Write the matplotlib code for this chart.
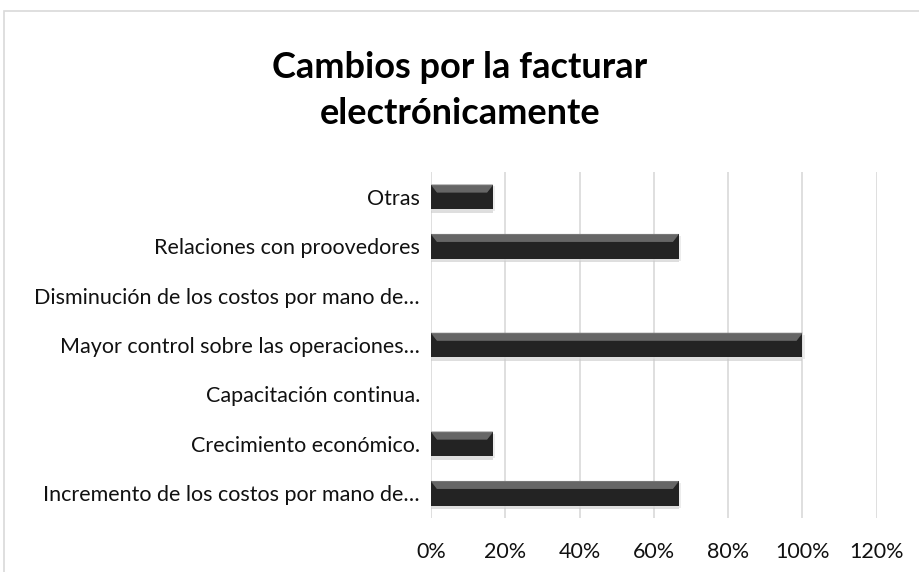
import matplotlib.pyplot as plt
from matplotlib.patches import Polygon, Rectangle
from matplotlib.ticker import PercentFormatter
import numpy as np

# categories listed bottom-to-top, as the chart shows them
categories = [
    "Incremento de los costos por mano de…",
    "Crecimiento económico.",
    "Capacitación continua.",
    "Mayor control sobre las operaciones…",
    "Disminución de los costos por mano de…",
    "Relaciones con proovedores",
    "Otras",
]
values = [66.7, 16.7, 0.0, 100.0, 0.0, 66.7, 16.7]
x_ticks = [0, 20, 40, 60, 80, 100, 120]
title = "Cambios por la facturar\nelectrónicamente"

plt.rcParams["font.family"] = ["Lato", "DejaVu Sans"]

fig = plt.figure(figsize=(9.2, 5.72), dpi=100)
ax = fig.add_axes([0.4685, 0.0944, 0.4845, 0.6046])

# chart frame (light gray, runs off the right and bottom of the image)
fig.patches.append(Rectangle((4 / 920, -0.1), 1.2, 1 - 11 / 572 + 0.1,
                             transform=fig.transFigure, fill=False,
                             edgecolor="#d9d9d9", lw=1.2))

bar_h = 0.5
y = np.arange(len(categories))

for yi, v in zip(y, values):
    if v <= 0:
        continue
    # soft shadow under the bar
    ax.barh(yi - 0.07, v, height=bar_h, color="#c8c8c8", alpha=0.6, zorder=2)
    ax.barh(yi - 0.04, v + 0.6, height=bar_h, color="#e0e0e0", alpha=0.6, zorder=2)
    # dark body
    ax.barh(yi, v, height=bar_h, color="#232323", zorder=3)
    # bevel highlight along the top edge
    top = yi + bar_h / 2
    d = 1.6
    band = 0.16
    ax.add_patch(Polygon([(0, top), (v, top), (v - d, top - band), (d, top - band)],
                         closed=True, facecolor="#7a7a7a", edgecolor="none", zorder=4))
    ax.add_patch(Polygon([(0, top - 0.02), (v, top - 0.02), (v - d, top - band), (d, top - band)],
                         closed=True, facecolor="#5a5a5a", edgecolor="none", zorder=4, alpha=0.6))

ax.set_xlim(0, 120)
ax.set_ylim(-0.5, len(categories) - 0.5)
ax.set_xticks(x_ticks)
ax.xaxis.set_major_formatter(PercentFormatter(decimals=0))
ax.set_yticks(y)
ax.set_yticklabels(categories)
ax.grid(axis="x", color="#d9d9d9", lw=1.2, zorder=0)
ax.set_axisbelow(True)
for s in ax.spines.values():
    s.set_visible(False)
ax.tick_params(axis="both", length=0, labelsize=15.5, colors="#111111")
ax.tick_params(axis="y", pad=8)
ax.tick_params(axis="x", pad=17)

fig.text(0.5, 0.842, title, ha="center", va="center", fontsize=26,
         fontweight="bold", linespacing=1.5, color="#000000")

fig.savefig("out.png", dpi=100)
